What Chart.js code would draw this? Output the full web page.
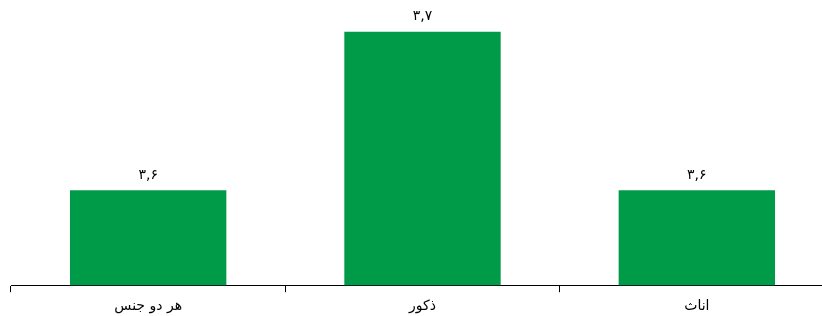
<!DOCTYPE html>
<html>
<head>
<meta charset="utf-8">
<script src="https://cdn.jsdelivr.net/npm/chart.js@4"></script>
<style>
  html, body { margin: 0; padding: 0; background: #fff; overflow: hidden; }
  #chart { position: absolute; left: 0; top: 0; }
</style>
</head>
<body>
<canvas id="chart" width="834" height="321"></canvas>
<script>
// Categories and values
const categories = ["هر دو جنس", "ذکور", "اناث"];
const values = [3.6, 3.7, 3.6];
const valueLabels = ["۳,۶", "۳,۷", "۳,۶"];

const barColor = "#009b48";
const fontFamily = "'DejaVu Sans', sans-serif";

// Value labels above bars
const valueLabelPlugin = {
    id: "valueLabels",
    afterDatasetsDraw(chart) {
        const ctx = chart.ctx;
        const meta = chart.getDatasetMeta(0);
        ctx.save();
        ctx.font = "14px " + fontFamily;
        ctx.fillStyle = "#000";
        ctx.textAlign = "center";
        ctx.textBaseline = "bottom";
        meta.data.forEach((bar, i) => {
            ctx.fillText(valueLabels[i], bar.x, bar.y - 8);
        });
        ctx.restore();
    },
};

new Chart(document.getElementById("chart"), {
    type: "bar",
    data: {
        labels: categories,
        datasets: [{
            data: values,
            backgroundColor: barColor,
            categoryPercentage: 1,
            barPercentage: 0.57,
        }],
    },
    options: {
        responsive: false,
        animation: false,
        layout: { padding: { left: 11, right: 0, top: 0, bottom: 0 } },
        plugins: { legend: { display: false }, tooltip: { enabled: false } },
        scales: {
            x: {
                offset: true,
                grid: { offset: true, drawOnChartArea: false, drawTicks: true, tickLength: 7, color: "#000" },
                border: { display: true, color: "#000", width: 1 },
                ticks: { color: "#000", font: { family: fontFamily, size: 14 }, padding: 6 },
            },
            y: {
                display: false,
                min: 3.54,
                max: 3.72,
            },
        },
    },
    plugins: [valueLabelPlugin],
});
</script>
</body>
</html>
